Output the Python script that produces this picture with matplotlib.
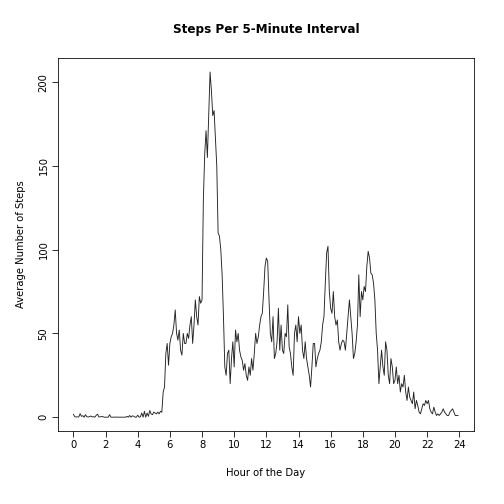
import numpy as np
import matplotlib.pyplot as plt

# average steps per 5-minute interval, one row of 12 per hour
steps_by_hour = [
    [1.7, 0.3, 0.1, 0.2, 0.1, 2.1, 0.5, 0.9, 0.0, 1.5, 0.3, 0.1],
    [0.3, 0.7, 0.2, 0.3, 0.0, 1.1, 1.8, 0.2, 0.2, 0.4, 0.3, 0.0],
    [0.0, 0.0, 0.0, 1.5, 0.0, 0.0, 0.0, 0.0, 0.1, 0.0, 0.0, 0.0],
    [0.0, 0.0, 0.0, 0.0, 0.5, 0.0, 1.0, 0.0, 0.8, 0.6, 0.0, 0.0],
    [1.2, 0.0, 0.2, 2.5, 0.0, 3.5, 0.0, 2.5, 0.5, 4.0, 2.0, 1.5],
    [3.0, 2.5, 2.0, 3.0, 2.0, 3.5, 3.0, 15.0, 18.0, 38.0, 44.0, 31.0],
    [44.0, 48.0, 50.0, 55.0, 64.0, 50.0, 46.0, 52.0, 40.0, 37.0, 50.0, 44.0],
    [44.0, 50.0, 47.0, 55.0, 60.0, 44.0, 55.0, 70.0, 60.0, 55.0, 72.0, 68.0],
    [70.0, 130.0, 157.0, 171.0, 155.0, 180.0, 206.0, 195.0, 180.0, 183.0, 166.0, 150.0],
    [110.0, 108.0, 100.0, 85.0, 60.0, 30.0, 25.0, 38.0, 40.0, 20.0, 35.0, 45.0],
    [30.0, 52.0, 45.0, 50.0, 40.0, 36.0, 34.0, 28.0, 32.0, 25.0, 22.0, 30.0],
    [25.0, 35.0, 28.0, 38.0, 50.0, 44.0, 48.0, 55.0, 60.0, 62.0, 75.0, 90.0],
    [95.0, 93.0, 70.0, 50.0, 45.0, 60.0, 35.0, 38.0, 45.0, 65.0, 40.0, 55.0],
    [40.0, 38.0, 50.0, 48.0, 67.0, 42.0, 38.0, 30.0, 25.0, 50.0, 55.0, 45.0],
    [60.0, 50.0, 55.0, 40.0, 35.0, 45.0, 35.0, 30.0, 25.0, 18.0, 30.0, 44.0],
    [44.0, 30.0, 35.0, 38.0, 40.0, 45.0, 55.0, 60.0, 80.0, 98.0, 102.0, 75.0],
    [65.0, 62.0, 75.0, 60.0, 55.0, 58.0, 45.0, 40.0, 44.0, 46.0, 45.0, 40.0],
    [50.0, 60.0, 70.0, 60.0, 50.0, 35.0, 38.0, 45.0, 55.0, 85.0, 60.0, 75.0],
    [70.0, 78.0, 75.0, 90.0, 99.0, 95.0, 86.0, 85.0, 80.0, 70.0, 50.0, 40.0],
    [20.0, 30.0, 40.0, 30.0, 25.0, 45.0, 40.0, 25.0, 20.0, 35.0, 30.0, 20.0],
    [22.0, 30.0, 20.0, 25.0, 15.0, 20.0, 18.0, 25.0, 15.0, 10.0, 18.0, 12.0],
    [10.0, 8.0, 15.0, 5.0, 10.0, 7.0, 3.0, 2.0, 5.0, 8.0, 7.0, 10.0],
    [8.0, 10.0, 5.0, 3.0, 2.0, 6.0, 3.0, 1.0, 2.0, 1.0, 2.0, 3.0],
    [5.0, 3.0, 2.0, 1.0, 1.0, 3.0, 4.0, 5.0, 3.0, 1.0, 1.0, 1.0],
]
steps = np.array(steps_by_hour).ravel()
hours = np.arange(len(steps)) * 5 / 60.0

fig = plt.figure(figsize=(7, 7), dpi=72)
ax = fig.add_axes([0.115, 0.145, 0.825, 0.74])
ax.plot(hours, steps, color='#222222', lw=0.9)
ax.set_xlim(-0.96, 24.9)
ax.set_ylim(-8.2, 214.4)
ax.set_xticks(range(0, 25, 2))
ax.set_yticks(range(0, 201, 50))
ax.tick_params(axis='y', labelrotation=90)
for lab in ax.get_yticklabels():
    lab.set_va('center')
ax.tick_params(labelsize=10, length=6)
ax.set_title('Steps Per 5-Minute Interval', fontweight='bold', fontsize=12, pad=25)
ax.set_xlabel('Hour of the Day', fontsize=10, labelpad=18)
ax.set_ylabel('Average Number of Steps', fontsize=10, labelpad=12)
fig.savefig('out.png')
